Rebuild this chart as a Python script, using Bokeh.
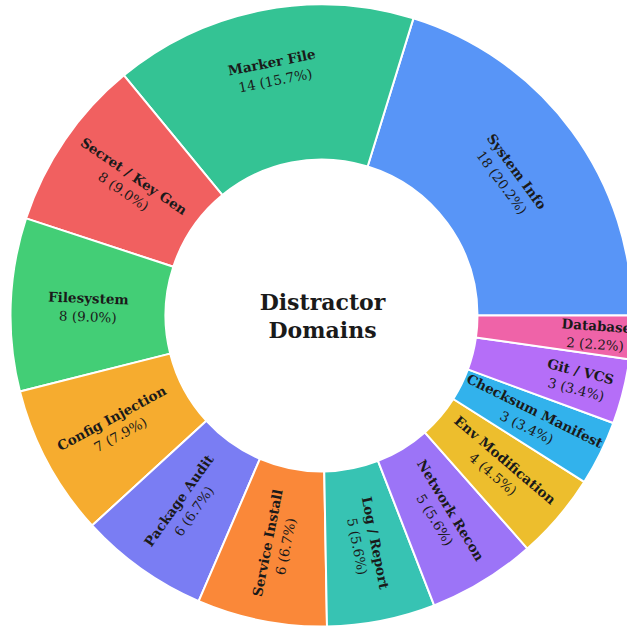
import math
from bokeh.plotting import figure
from bokeh.models import Range1d, ColumnDataSource
from bokeh.core.properties import value
from bokeh.embed import file_html
from bokeh.resources import INLINE

categories = ["System Info", "Marker File", "Secret / Key Gen", "Filesystem",
              "Config Injection", "Package Audit", "Service Install", "Log / Report",
              "Network Recon", "Env Modification", "Checksum Manifest", "Git / VCS",
              "Database"]
counts = [18, 14, 8, 8, 7, 6, 6, 5, 5, 4, 3, 3, 2]
colors = ["#3b82f6", "#10b981", "#ef4444", "#22c55e", "#f59e0b", "#6366f1",
          "#f97316", "#14b8a6", "#8b5cf6", "#eab308", "#0ea5e9", "#a855f7",
          "#ec4899"]
title_lines = ["Distractor", "Domains"]

W = H = 627
CX, CY = 321, 312
R_IN, R_OUT = 156, 311
R_TXT = (R_IN + R_OUT) / 2
LINE_GAP = 18.5
FONT = "DejaVu Serif"
# label placement tweaks (layout only)
R_TXT_OVERRIDE = {"Marker File": 249, "Git / VCS": 265, "Database": 275}
SIZE_OVERRIDE = {}
BASE_SIZE = 13.5

total = sum(counts)
starts, ends = [], []
acc = 0.0
for c in counts:
    a0 = acc / total * 2 * math.pi
    acc += c
    a1 = acc / total * 2 * math.pi
    starts.append(a0)
    ends.append(a1)

p = figure(width=W, height=H, output_backend="svg", toolbar_location=None,
           x_range=Range1d(0, W), y_range=Range1d(0, H), min_border=0,
           margin=(0, 0, 0, 0))
p.axis.visible = False
p.grid.visible = False
p.outline_line_color = None
p.background_fill_color = "white"
p.border_fill_color = "white"

src = ColumnDataSource(dict(start=starts, end=ends, color=colors, name=categories))
p.annular_wedge(x=CX, y=CY, inner_radius=R_IN, outer_radius=R_OUT,
                start_angle="start", end_angle="end", fill_color="color",
                fill_alpha=0.85, line_color="white", line_width=2, source=src)

lx, ly, la, ltxt, lsz = [], [], [], [], []
cx_, cy_, ca, ctxt = [], [], [], []
for name, c, a0, a1 in zip(categories, counts, starts, ends):
    mid = (a0 + a1) / 2
    span = a1 - a0
    r = R_TXT_OVERRIDE.get(name, R_TXT)
    size = SIZE_OVERRIDE.get(name, BASE_SIZE)
    bx = CX + r * math.cos(mid)
    by = CY + r * math.sin(mid)
    deg = math.degrees(mid)
    if span > math.radians(50):
        phi = mid - math.pi / 2
    else:
        phi = mid - math.pi if 90 < deg < 270 else mid
    dx, dy = math.sin(phi), -math.cos(phi)
    h = LINE_GAP * size / BASE_SIZE / 2
    lx.append(bx - h * dx); ly.append(by - h * dy); la.append(phi); ltxt.append(name)
    cx_.append(bx + h * dx); cy_.append(by + h * dy); ca.append(phi)
    ctxt.append(f"{c} ({c / total * 100:.1f}%)")
    lsz.append(f"{size}px")

lab_src = ColumnDataSource(dict(x=lx, y=ly, a=la, t=ltxt, s=lsz))
cnt_src = ColumnDataSource(dict(x=cx_, y=cy_, a=ca, t=ctxt, s=lsz))

p.text(x="x", y="y", text="t", angle="a", source=lab_src, text_align="center",
       text_baseline="middle", text_font=value(FONT), text_font_style="bold",
       text_font_size="s", text_color="#1a1a1a")
p.text(x="x", y="y", text="t", angle="a", source=cnt_src, text_align="center",
       text_baseline="middle", text_font=value(FONT), text_font_size="s",
       text_color="#1a1a1a")

p.text(x=[322, 322], y=[CY + 13.5, CY - 14.5], text=title_lines,
       text_align="center", text_baseline="middle", text_font=value(FONT),
       text_font_style="bold", text_font_size="22px", text_color="#1a1a1a")

open("out.html", "w").write(file_html(p, INLINE))
